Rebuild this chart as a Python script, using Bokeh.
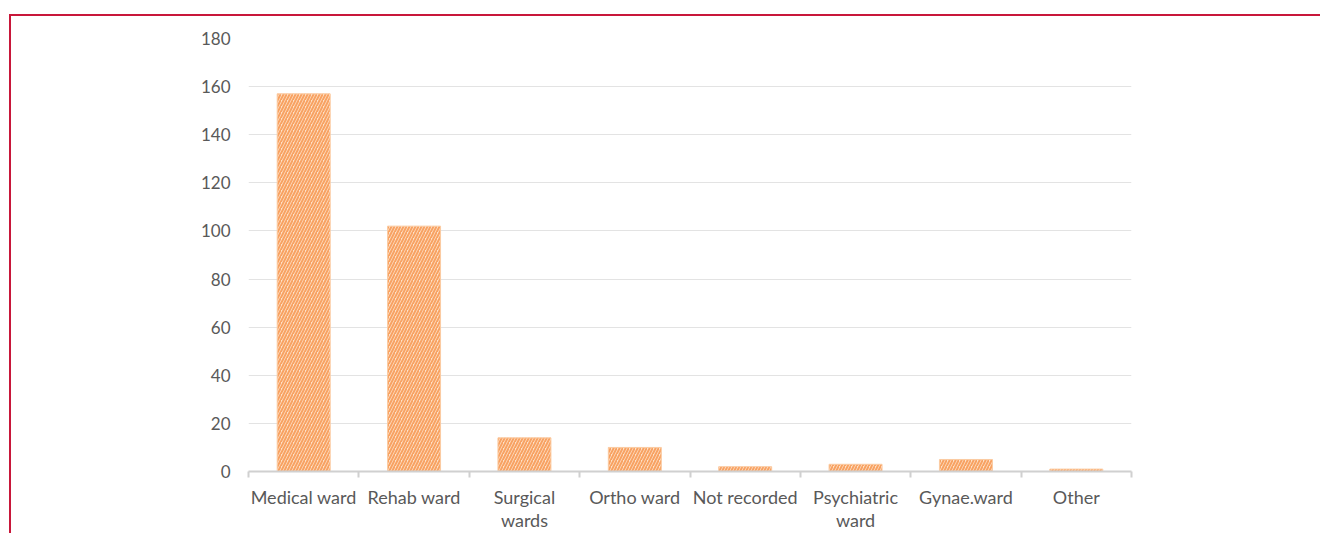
from bokeh.plotting import figure
from bokeh.models import ColumnDataSource, FixedTicker, Range1d
from bokeh.embed import file_html
from bokeh.resources import INLINE

categories = ["Medical ward", "Rehab ward", "Surgical\nwards", "Ortho ward",
              "Not recorded", "Psychiatric\nward", "Gynae.ward", "Other"]
counts = [157, 102, 14, 10, 2, 3, 5, 1]
y_ticks = [0, 20, 40, 60, 80, 100, 120, 140, 160, 180]

xs = [i + 0.5 for i in range(len(categories))]
src = ColumnDataSource(dict(x=xs, top=counts, name=categories))

FONT = "Lato"
GREY = "#595959"

p = figure(frame_width=883, frame_height=433, output_backend="svg", toolbar_location=None,
           x_range=Range1d(0, len(categories)), y_range=Range1d(0, 180),
           min_border_left=237, min_border_right=189, min_border_top=22, min_border_bottom=60,
           styles={"border-top": "2px solid #C8173A", "border-left": "2px solid #C8173A",
                   "margin-top": "14px", "margin-left": "9px"})
p.outline_line_color = None
p.background_fill_color = "white"

p.vbar(x="x", top="top", width=0.48, bottom=0, source=src,
       fill_color="#FDE2CB", line_color="#FBCBA2", line_width=1,
       hatch_pattern="/", hatch_color="#F8A262", hatch_scale=6, hatch_weight=2)

# y axis
p.yaxis.ticker = FixedTicker(ticks=y_ticks)
p.yaxis.axis_line_color = None
p.yaxis.major_tick_line_color = None
p.yaxis.minor_tick_line_color = None
p.yaxis.major_label_standoff = 12
p.yaxis.major_label_text_font = FONT
p.yaxis.major_label_text_font_size = "17px"
p.yaxis.major_label_text_color = GREY

# x axis
p.xaxis.ticker = FixedTicker(ticks=xs, minor_ticks=list(range(len(categories) + 1)))
p.xaxis.major_label_overrides = {x: c for x, c in zip(xs, categories)}
p.xaxis.axis_line_color = "#D0D0D0"
p.xaxis.axis_line_width = 2
p.xaxis.major_tick_line_color = None
p.xaxis.major_tick_out = 0
p.xaxis.major_tick_in = 0
p.xaxis.minor_tick_line_color = "#D0D0D0"
p.xaxis.minor_tick_line_width = 2
p.xaxis.minor_tick_out = 6
p.xaxis.minor_tick_in = 0
p.xaxis.major_label_standoff = 8
p.xaxis.major_label_text_font = FONT
p.xaxis.major_label_text_font_size = "18px"
p.xaxis.major_label_text_line_height = 1.05
p.xaxis.major_label_text_color = GREY

p.xgrid.grid_line_color = None
p.ygrid.ticker = FixedTicker(ticks=y_ticks)
p.ygrid.grid_line_color = "#E3E3E3"
p.ygrid.grid_line_width = 1

open("out.html", "w").write(file_html(p, INLINE))
